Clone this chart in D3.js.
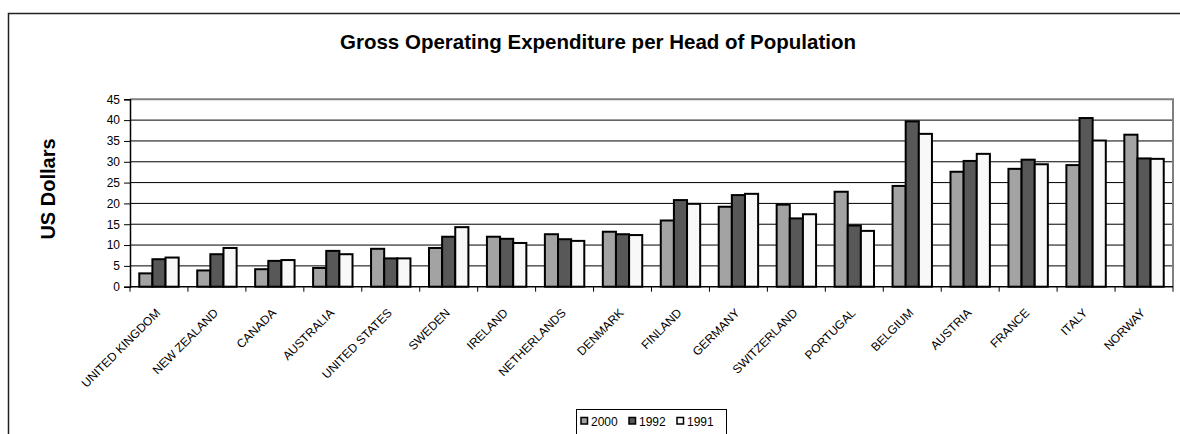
<!DOCTYPE html>
<html>
<head>
<meta charset="utf-8">
<script src="https://cdn.jsdelivr.net/npm/d3@7/dist/d3.min.js"></script>
<style>
    body { margin: 0; background: #fff; }
    svg { display: block; font-family: "Liberation Sans", Arial, sans-serif; }
</style>
</head>
<body>
<div class="canvas"></div>
<script>
// Data
const categories = ['UNITED KINGDOM', 'NEW ZEALAND', 'CANADA', 'AUSTRALIA', 'UNITED STATES', 'SWEDEN',
    'IRELAND', 'NETHERLANDS', 'DENMARK', 'FINLAND', 'GERMANY', 'SWITZERLAND', 'PORTUGAL', 'BELGIUM',
    'AUSTRIA', 'FRANCE', 'ITALY', 'NORWAY'];
const seriesNames = ['2000', '1992', '1991'];
const values2000 = [3.2, 3.9, 4.2, 4.5, 9.1, 9.3, 12.0, 12.6, 13.2, 15.9, 19.2, 19.7, 22.8, 24.2, 27.6, 28.3, 29.2, 36.5];
const values1992 = [6.6, 7.8, 6.2, 8.6, 6.8, 12.0, 11.5, 11.4, 12.6, 20.8, 22.0, 16.4, 14.7, 39.7, 30.2, 30.5, 40.5, 30.8];
const values1991 = [7.0, 9.3, 6.4, 7.8, 6.8, 14.3, 10.5, 11.0, 12.4, 19.9, 22.3, 17.4, 13.4, 36.7, 31.9, 29.4, 35.1, 30.7];
const yTicks = [0, 5, 10, 15, 20, 25, 30, 35, 40, 45];
const chartTitle = 'Gross Operating Expenditure per Head of Population';
const yTitle = 'US Dollars';

const app = {
    dims: {
        svgWidth: 1180,
        svgHeight: 434,
        plotLeft: 130,
        plotRight: 1173,
        plotTop: 99.3,
        plotBottom: 286.7,
    },
    colors: { '2000': '#a3a3a3', '1992': '#585858', '1991': '#f8f8f8' },
    svg: null,

    init: function() {
        const d = app.dims;
        const valuesBySeries = { '2000': values2000, '1992': values1992, '1991': values1991 };

        app.svg = d3.select('.canvas')
            .append('svg')
            .attr('width', d.svgWidth)
            .attr('height', d.svgHeight);

        // Outer chart frame
        app.svg.append('rect')
            .attr('x', 8.5).attr('y', 13.5)
            .attr('width', 1200).attr('height', 500)
            .attr('fill', 'none')
            .attr('stroke', '#222')
            .attr('stroke-width', 1.5);

        // Scales
        const x0 = d3.scaleBand()
            .domain(categories)
            .range([d.plotLeft, d.plotRight]);

        const x1 = d3.scaleBand()
            .domain(seriesNames)
            .range([x0.bandwidth() * 0.16, x0.bandwidth() * 0.84]);

        const y = d3.scaleLinear()
            .domain([0, 45])
            .range([d.plotBottom, d.plotTop]);

        // Gridlines
        app.svg.append('g')
            .selectAll('line')
            .data(yTicks.filter(t => t > 0 && t < 45))
            .enter()
            .append('line')
            .attr('x1', d.plotLeft).attr('x2', d.plotRight)
            .attr('y1', t => y(t)).attr('y2', t => y(t))
            .attr('stroke', '#000')
            .attr('stroke-width', 1);

        // Plot border (top and right, grey)
        app.svg.append('path')
            .attr('d', `M${d.plotLeft},${y(45)}H${d.plotRight}V${y(0)}`)
            .attr('fill', 'none')
            .attr('stroke', '#808080')
            .attr('stroke-width', 2);

        // Bars
        const groups = app.svg.append('g')
            .selectAll('g')
            .data(categories)
            .enter()
            .append('g')
            .attr('transform', c => `translate(${x0(c)},0)`);

        groups.selectAll('rect')
            .data((c, i) => seriesNames.map(s => ({ key: s, value: valuesBySeries[s][i] })))
            .enter()
            .append('rect')
            .attr('x', v => x1(v.key))
            .attr('y', v => y(v.value))
            .attr('width', x1.bandwidth())
            .attr('height', v => y(0) - y(v.value))
            .attr('fill', v => app.colors[v.key])
            .attr('stroke', '#000')
            .attr('stroke-width', 2);

        // Y axis
        const yAxis = app.svg.append('g')
            .attr('transform', `translate(${d.plotLeft},0)`)
            .call(d3.axisLeft(y).tickValues(yTicks).tickSize(6).tickPadding(4));

        yAxis.select('.domain').attr('stroke', '#000').attr('stroke-width', 1.5);
        yAxis.selectAll('.tick line').attr('stroke', '#000');
        yAxis.selectAll('.tick text')
            .attr('font-size', 12)
            .attr('fill', '#000')
            .style('font-family', '"Liberation Sans", Arial, sans-serif');

        // X axis (ticks between categories)
        const xAxis = app.svg.append('g');

        xAxis.append('line')
            .attr('x1', d.plotLeft).attr('x2', d.plotRight)
            .attr('y1', y(0)).attr('y2', y(0))
            .attr('stroke', '#000')
            .attr('stroke-width', 1.5);

        xAxis.selectAll('.xtick')
            .data(categories.map(c => x0(c)).concat([d.plotRight]))
            .enter()
            .append('line')
            .attr('class', 'xtick')
            .attr('x1', p => p).attr('x2', p => p)
            .attr('y1', y(0)).attr('y2', y(0) + 5)
            .attr('stroke', '#000');

        xAxis.selectAll('.xlabel')
            .data(categories)
            .enter()
            .append('text')
            .attr('class', 'xlabel')
            .attr('text-anchor', 'end')
            .attr('font-size', 12)
            .attr('transform', c => `translate(${x0(c) + x0.bandwidth() / 2 + 2},${y(0) + 27}) rotate(-45)`)
            .text(c => c);

        // Title
        app.svg.append('text')
            .attr('x', 598)
            .attr('y', 49)
            .attr('text-anchor', 'middle')
            .attr('font-size', 20.5)
            .attr('font-weight', 'bold')
            .text(chartTitle);

        // Y axis title
        app.svg.append('text')
            .attr('transform', `translate(55,189) rotate(-90)`)
            .attr('text-anchor', 'middle')
            .attr('font-size', 20)
            .attr('font-weight', 'bold')
            .text(yTitle);

        // Legend
        const legend = app.svg.append('g');

        legend.append('rect')
            .attr('x', 576.5).attr('y', 409.5)
            .attr('width', 150).attr('height', 30)
            .attr('fill', '#fff')
            .attr('stroke', '#000');

        const items = legend.selectAll('.item')
            .data(seriesNames)
            .enter()
            .append('g')
            .attr('class', 'item')
            .attr('transform', (s, i) => `translate(${581 + i * 48},0)`);

        items.append('rect')
            .attr('x', 0).attr('y', 417.5)
            .attr('width', 6.5).attr('height', 6.5)
            .attr('fill', s => app.colors[s])
            .attr('stroke', '#000')
            .attr('stroke-width', 1.5);

        items.append('text')
            .attr('x', 10)
            .attr('y', 426)
            .attr('font-size', 12)
            .text(s => s);
    },
};

document.addEventListener('DOMContentLoaded', app.init);
</script>
</body>
</html>
